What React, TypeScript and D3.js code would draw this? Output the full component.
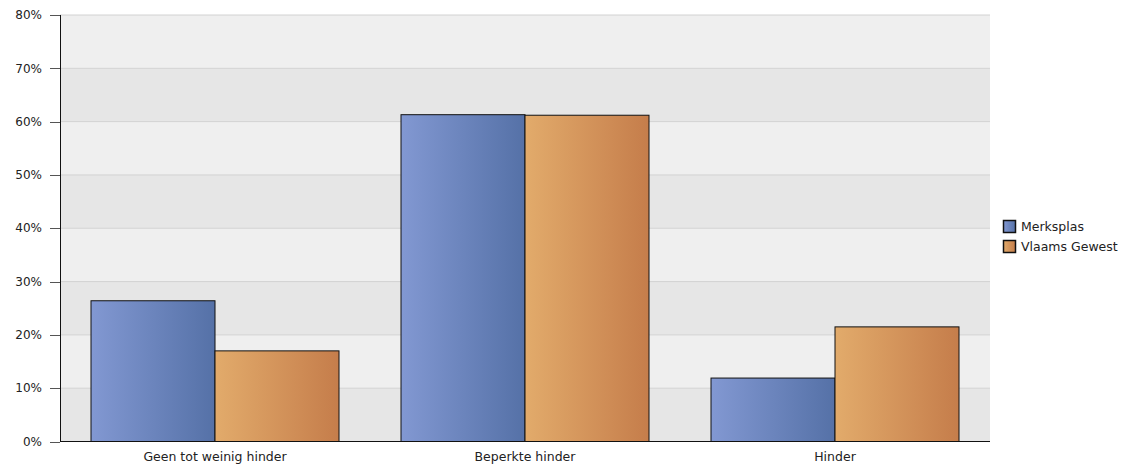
import React from "react";
import * as d3 from "d3";

const categories = ["Geen tot weinig hinder", "Beperkte hinder", "Hinder"];
const seriesNames = ["Merksplas", "Vlaams Gewest"];
const merksplas = [26.4, 61.3, 11.9];
const vlaams = [17.0, 61.2, 21.5];
const yTicks = [0, 10, 20, 30, 40, 50, 60, 70, 80];

const W = 1121, H = 464;
const M = { left: 60, right: 131, top: 15, bottom: 22.5 };
const gradients = [
  ["#8298d2", "#5571a7"],
  ["#e2ab6b", "#c57d4b"],
];

export default function App() {
  const x0 = d3.scaleBand().domain(categories).range([M.left, W - M.right]);
  const y = d3.scaleLinear().domain([0, 80]).range([H - M.bottom, M.top]);
  const data = [merksplas, vlaams];
  const font = "'DejaVu Sans', Verdana, sans-serif";
  const bandW = x0.bandwidth();
  const barW = bandW * 0.4;
  return (
    <svg width={W} height={H} style={{ position: "absolute", left: 0, top: 0 }} fontFamily={font}>
      <defs>
        {gradients.map((g, i) => (
          <linearGradient key={i} id={`g${i}`} x1="0" x2="1" y1="0" y2="0">
            <stop offset="0" stopColor={g[0]} />
            <stop offset="1" stopColor={g[1]} />
          </linearGradient>
        ))}
      </defs>
      {yTicks.slice(0, -1).map((t, i) => (
        <rect key={t} x={M.left} width={W - M.right - M.left} y={y(t + 10)} height={y(t) - y(t + 10)}
          fill={i % 2 === 0 ? "#e6e6e6" : "#efefef"} />
      ))}
      {yTicks.map((t) => (
        <g key={t}>
          <line x1={M.left} x2={W - M.right} y1={y(t)} y2={y(t)} stroke="#d2d2d2" />
          <line x1={M.left - 10} x2={M.left} y1={Math.round(y(t)) + 0.5} y2={Math.round(y(t)) + 0.5} stroke="#555" />
          <text x={42} y={y(t)} dy="0.35em" textAnchor="end" fontSize={12} fill="#222">{t}%</text>
        </g>
      ))}
      {categories.map((c, ci) =>
        data.map((s, si) => {
          const bx = (x0(c) as number) + bandW * 0.1 + si * barW;
          return (
            <rect key={c + si} x={bx} width={barW} y={y(s[ci])} height={y(0) - y(s[ci])}
              fill={`url(#g${si})`} stroke="#111" strokeWidth={1} />
          );
        })
      )}
      <line x1={M.left + 0.5} x2={M.left + 0.5} y1={M.top} y2={y(0)} stroke="#111" />
      <line x1={M.left} x2={W - M.right} y1={y(0)} y2={y(0)} stroke="#111" />
      {categories.map((c) => (
        <text key={c} x={(x0(c) as number) + bandW / 2} y={y(0) + 19} textAnchor="middle" fontSize={12.5} fill="#222">{c}</text>
      ))}
      {seriesNames.map((n, i) => (
        <g key={n} transform={`translate(1003, ${220 + i * 20})`}>
          <rect x={0.5} y={0.5} width={12} height={12} fill={`url(#g${i})`} stroke="#111" strokeWidth={1.5} />
          <text x={18} y={6.5} dy="0.35em" fontSize={12.5} fill="#222">{n}</text>
        </g>
      ))}
    </svg>
  );
}
